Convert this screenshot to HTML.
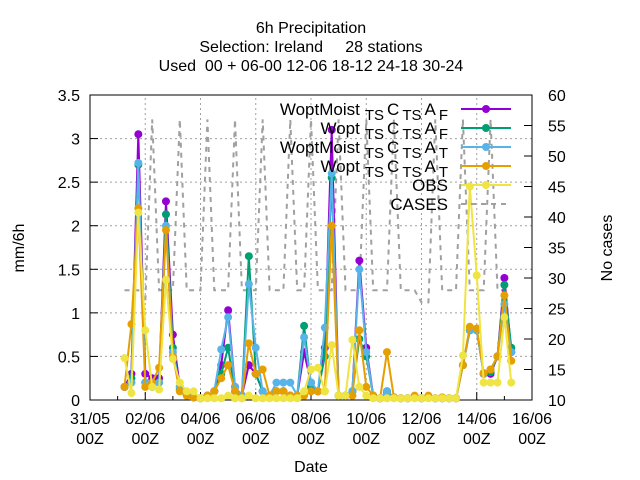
<!DOCTYPE html>
<html><head><meta charset="utf-8"><style>
body{margin:0;background:#fff}
svg{display:block;font-family:"Liberation Sans",sans-serif}
</style></head><body>
<svg id="chart" width="640" height="480" viewBox="0 0 640 480">
<rect width="640" height="480" fill="#fff"/>
<g font-size="16" text-anchor="middle">
<text x="311" y="33">6h Precipitation</text>
<text x="311" y="52">Selection: Ireland&#160;&#160;&#160;&#160;&#160;28 stations</text>
<text x="311" y="71">Used&#160;&#160;00 + 06-00 12-06 18-12 24-18 30-24</text>
</g>
<g id="grid"></g>
<g id="axes"></g>
<g id="series"></g>
<g id="legend"></g>
<text x="24" y="248" font-size="16" text-anchor="middle" transform="rotate(-90 24 248)">mm/6h</text>
<text x="612" y="248" font-size="16" text-anchor="middle" transform="rotate(-90 612 248)">No cases</text>
<text x="311" y="472" font-size="16" text-anchor="middle">Date</text>
</svg>
<script>
const xStartDay = 1.25, stepDay = 0.25;
const xTickLabels = ["31/05","02/06","04/06","06/06","08/06","10/06","12/06","14/06","16/06"];
const yTicks = [0,0.5,1,1.5,2,2.5,3,3.5];
const y2Ticks = [10,15,20,25,30,35,40,45,50,55,60];
const woptMoistAF = [0.15,0.3,3.05,0.3,0.25,0.25,2.28,0.75,0.15,0.08,0.03,0.02,0.05,0.1,0.4,1.03,0.15,0.05,0.4,0.3,0.1,0.05,0.1,0.1,0.05,0.05,0.55,0.2,0.1,0.6,3.1,0.05,0.05,0.1,1.6,0.6,0.05,0.02,0.1,0.03,0.02,0.02,0.03,0.02,0.03,0.02,0.02,0.02,0.02,0.4,0.8,0.8,0.3,0.3,0.5,1.4,0.55];
const woptAF = [0.15,0.25,2.7,0.2,0.15,0.2,2.13,0.6,0.12,0.06,0.03,0.02,0.05,0.1,0.3,0.6,0.1,0.05,1.65,0.3,0.1,0.05,0.1,0.1,0.05,0.05,0.85,0.15,0.1,0.5,2.55,0.05,0.05,0.1,0.7,0.5,0.05,0.02,0.08,0.03,0.02,0.02,0.03,0.02,0.03,0.02,0.02,0.02,0.02,0.4,0.8,0.8,0.3,0.32,0.5,1.32,0.6];
const woptMoistAT = [0.15,0.2,2.72,0.2,0.15,0.2,2.0,0.55,0.15,0.08,0.03,0.02,0.05,0.1,0.58,0.95,0.15,0.05,1.33,0.6,0.1,0.05,0.2,0.2,0.2,0.05,0.72,0.2,0.1,0.83,2.6,0.05,0.05,0.1,1.5,0.55,0.05,0.02,0.1,0.03,0.02,0.02,0.03,0.02,0.03,0.02,0.02,0.02,0.02,0.4,0.8,0.8,0.3,0.35,0.5,1.1,0.55];
const woptAT = [0.15,0.87,2.2,0.15,0.2,0.37,1.95,0.5,0.1,0.05,0.03,0.02,0.05,0.1,0.25,0.4,0.1,0.02,0.65,0.3,0.35,0.05,0.1,0.1,0.05,0.05,0.05,0.1,0.1,0.1,2.0,0.05,0.05,0.05,0.8,0.15,0.05,0.02,0.55,0.03,0.02,0.02,0.05,0.02,0.05,0.02,0.03,0.02,0.02,0.4,0.84,0.82,0.31,0.35,0.5,1.2,0.45];
const obs = [0.48,0.08,2.15,0.8,0.15,0.12,1.38,0.47,0.2,0.1,0.1,0.02,0.02,0.02,0.02,0.05,0.02,0.02,0.05,0.02,0.02,0.02,0.02,0.02,0.02,0.02,0.1,0.35,0.37,0.1,0.63,0.05,0.05,0.69,0.15,0.05,0.02,0.02,0.02,0.02,0.02,0.02,0.02,0.02,0.02,0.02,0.02,0.02,0.02,0.51,2.45,1.43,0.2,0.2,0.2,0.95,0.2];
const cases = [28,28,28,26,56,28,28,28,56,28,28,28,56,28,28,28,56,28,28,28,56,28,28,28,56,28,28,56,28,28,28,56,28,28,28,56,28,28,28,56,28,28,28,26,26,56,28,28,28,56,28,28,28,56,28,28,28];

const NS="http://www.w3.org/2000/svg";
const X0=90,X1=532,Y0=400,Y1=95;
const xs=d=>X0+(X1-X0)*d/16;
const ys=v=>Y0-(Y0-Y1)*v/3.5;
const y2s=v=>Y0-(Y0-Y1)*(v-10)/50;
function mk(tag,attrs,parent){const e=document.createElementNS(NS,tag);for(const k in attrs)e.setAttribute(k,attrs[k]);parent.appendChild(e);return e;}
const grid=document.getElementById('grid'),axes=document.getElementById('axes'),series=document.getElementById('series'),legend=document.getElementById('legend');
yTicks.forEach((v,i)=>{
  if(v>0&&v<3.5){const g=mk('line',{x1:X0,x2:X1,y1:ys(v),y2:ys(v),stroke:'#a0a0a0','stroke-dasharray':'2,3'},grid);
  
  }
  mk('line',{x1:X0,x2:X0+8,y1:ys(v),y2:ys(v),stroke:'#000'},axes);
  const t=mk('text',{x:X0-10,y:ys(v)+6,'font-size':16,'text-anchor':'end'},axes);t.textContent=v;
  
  
});
y2Ticks.forEach(v=>{
  mk('line',{x1:X1-8,x2:X1,y1:y2s(v),y2:y2s(v),stroke:'#000'},axes);
  const t=mk('text',{x:X1+16,y:y2s(v)+6,'font-size':16,'text-anchor':'start'},axes);t.textContent=v;
  
  
});
xTickLabels.forEach((lab,i)=>{
  const x=xs(i*2);
  if(i>0&&i<8){const g=mk('line',{x1:x,x2:x,y1:Y0,y2:Y1,stroke:'#a0a0a0','stroke-dasharray':'2,3'},grid);
  
  }
  mk('line',{x1:x,x2:x,y1:Y0,y2:Y0-8,stroke:'#000'},axes);
  const t=mk('text',{x:x,y:Y0+24,'font-size':16,'text-anchor':'middle'},axes);t.textContent=lab;
  
  
  const t2=mk('text',{x:x,y:Y0+44,'font-size':16,'text-anchor':'middle'},axes);t2.textContent='00Z';
  
  
});
for(let d=1;d<16;d+=2){mk('line',{x1:xs(d),x2:xs(d),y1:Y0,y2:Y0-4,stroke:'#000'},axes);}
mk('rect',{x:X0,y:Y1,width:X1-X0,height:Y0-Y1,fill:'none',stroke:'#000'},axes);

const cp=cases.map((v,i)=>xs(xStartDay+i*stepDay).toFixed(1)+','+y2s(v).toFixed(1)).join(' ');
const cl=mk('polyline',{points:cp,fill:'none',stroke:'#a0a0a0','stroke-width':2,'stroke-dasharray':'5,5'},series);



const defs=[
 {d:woptMoistAF,c:'#9400d3',n:'woptmoist-af'},
 {d:woptAF,c:'#009e73',n:'wopt-af'},
 {d:woptMoistAT,c:'#56b4e9',n:'woptmoist-at'},
 {d:woptAT,c:'#e69f00',n:'wopt-at'},
 {d:obs,c:'#f0e442',n:'obs'}];
defs.forEach(s=>{
  const g=mk('g',{},series);
  
  
  const pts=s.d.map((v,i)=>xs(xStartDay+i*stepDay).toFixed(1)+','+ys(v).toFixed(1)).join(' ');
  mk('polyline',{points:pts,fill:'none',stroke:s.c,'stroke-width':2},g);
  s.d.forEach((v,i)=>{
    const p=mk('circle',{cx:xs(xStartDay+i*stepDay),cy:ys(v),r:4,fill:s.c},g);
    
    
  });
});

const legRows=[
 {pre:'WoptMoist',last:'F',c:'#9400d3',n:'woptmoist-af'},
 {pre:'Wopt',last:'F',c:'#009e73',n:'wopt-af'},
 {pre:'WoptMoist',last:'T',c:'#56b4e9',n:'woptmoist-at'},
 {pre:'Wopt',last:'T',c:'#e69f00',n:'wopt-at'},
 {pre:null,label:'OBS',c:'#f0e442',n:'obs'},
 {pre:null,label:'CASES',c:'#a0a0a0',n:'cases',dash:true}];
legRows.forEach((r,i)=>{
  const y=109+i*19;
  const g=mk('g',{},legend);
  
  
  const t=mk('text',{x:448,y:y+6,'font-size':17,'text-anchor':'end'},g);
  if(r.pre){
    t.innerHTML=r.pre+'<tspan font-size="15" dx="5" dy="5">TS</tspan><tspan dx="3" dy="-5">C</tspan><tspan font-size="15" dx="3" dy="5">TS</tspan><tspan dx="3" dy="-5">A</tspan><tspan font-size="15" dx="3" dy="5">'+r.last+'</tspan>';
  } else t.textContent=r.label;
  if(r.dash){mk('line',{x1:461,x2:511,y1:y,y2:y,stroke:r.c,'stroke-width':2,'stroke-dasharray':'5,5'},g);}
  else{mk('line',{x1:461,x2:511,y1:y,y2:y,stroke:r.c,'stroke-width':2},g);mk('circle',{cx:486,cy:y,r:4,fill:r.c},g);}
});
</script>
</body></html>
